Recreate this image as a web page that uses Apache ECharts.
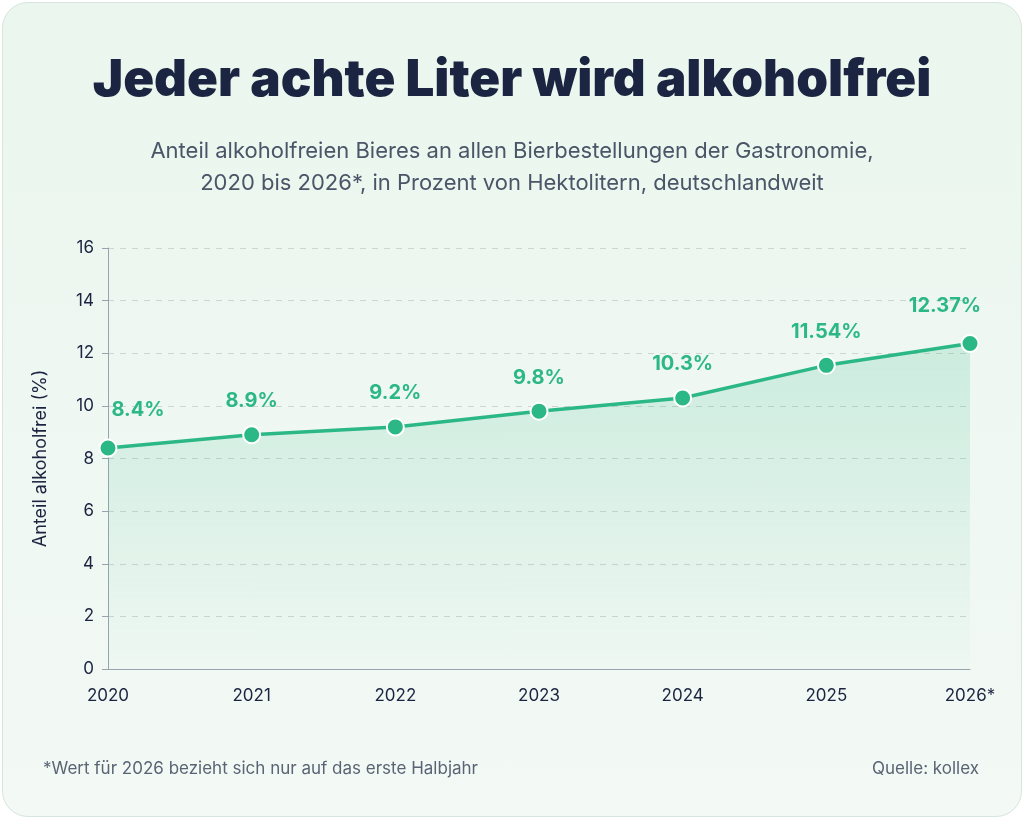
<!DOCTYPE html>
<html lang="de">
<head>
<meta charset="UTF-8">
<title>Alkoholfrei</title>
<script src="https://cdn.jsdelivr.net/npm/echarts@6/dist/echarts.min.js"></script>
<style>
  html, body { margin: 0; padding: 0; background: #ffffff; }
  #card { position: absolute; left: 2px; top: 2px; width: 1018px; height: 813px; border-radius: 26px;
          background: linear-gradient(#eaf6ee, #f3f9f5); border: 1px solid #d6e6dc; }
  #main { width: 1024px; height: 819px; position: absolute; left: 0; top: 0; }
</style>
</head>
<body>
<div id="card"></div>
<div id="main"></div>
<script>
// Daten
var years = ['2020', '2021', '2022', '2023', '2024', '2025', '2026*'];
var shares = [8.4, 8.9, 9.2, 9.8, 10.3, 11.54, 12.37];
var labels = ['8.4%', '8.9%', '9.2%', '9.8%', '10.3%', '11.54%', '12.37%'];

var chart = echarts.init(document.getElementById('main'));
var green = '#2cb886';
var option = {
    backgroundColor: 'transparent',
    textStyle: { fontFamily: 'Inter, "Noto Sans", sans-serif' },
    title: [
        { text: 'Jeder achte Liter wird alkoholfrei', left: 'center', top: 50,
          textStyle: { fontSize: 51, fontWeight: 900, color: '#1b2440', fontFamily: 'Inter' } },
        { text: 'Anteil alkoholfreien Bieres an allen Bierbestellungen der Gastronomie,\n2020 bis 2026*, in Prozent von Hektolitern, deutschlandweit',
          left: 'center', top: 130,
          textStyle: { fontSize: 22, fontWeight: 'normal', color: '#4a5568', lineHeight: 32 } },
        { text: '*Wert für 2026 bezieht sich nur auf das erste Halbjahr', left: 38, top: 755,
          textStyle: { fontSize: 17, fontWeight: 'normal', color: '#5a6474' } },
        { text: 'Quelle: kollex', right: 40, top: 755,
          textStyle: { fontSize: 17, fontWeight: 'normal', color: '#5a6474' } }
    ],
    grid: { left: 108, right: 54, top: 248, bottom: 150 },
    xAxis: {
        type: 'category', data: years, boundaryGap: false,
        axisLine: { lineStyle: { color: '#9aa3ad' } },
        axisTick: { show: false },
        axisLabel: { color: '#1b2440', fontSize: 17, margin: 18 }
    },
    yAxis: {
        type: 'value', min: 0, max: 16, interval: 2,
        name: 'Anteil alkoholfrei (%)', nameLocation: 'middle', nameGap: 58,
        nameTextStyle: { color: '#1b2440', fontSize: 18 },
        axisLine: { show: true, lineStyle: { color: '#9aa3ad' } },
        axisTick: { show: true, length: 6, lineStyle: { color: '#9aa3ad' } },
        axisLabel: { color: '#1b2440', fontSize: 17, margin: 14 },
        splitLine: { lineStyle: { type: [6, 6], color: '#cdd6d2' } }
    },
    series: [{
        type: 'line', data: shares,
        symbol: 'circle', symbolSize: 17,
        lineStyle: { color: green, width: 3.5 },
        itemStyle: { color: green, borderColor: '#ffffff', borderWidth: 2 },
        areaStyle: { color: new echarts.graphic.LinearGradient(0, 0, 0, 1, [
            { offset: 0, color: 'rgba(44,184,134,0.25)' },
            { offset: 1, color: 'rgba(44,184,134,0.02)' }]) },
        label: {
            show: true, position: 'top', distance: 14,
            color: green, fontSize: 20, fontWeight: 'bold',
            formatter: function (p) { return labels[p.dataIndex]; }
        },
        labelLayout: function (p) {
            if (p.dataIndex === 0) return { dx: 30, dy: -4 };
            if (p.dataIndex === 6) return { dx: -25, dy: -4 };
            return {};
        }
    }]
};
chart.setOption(option);
</script>
</body>
</html>
